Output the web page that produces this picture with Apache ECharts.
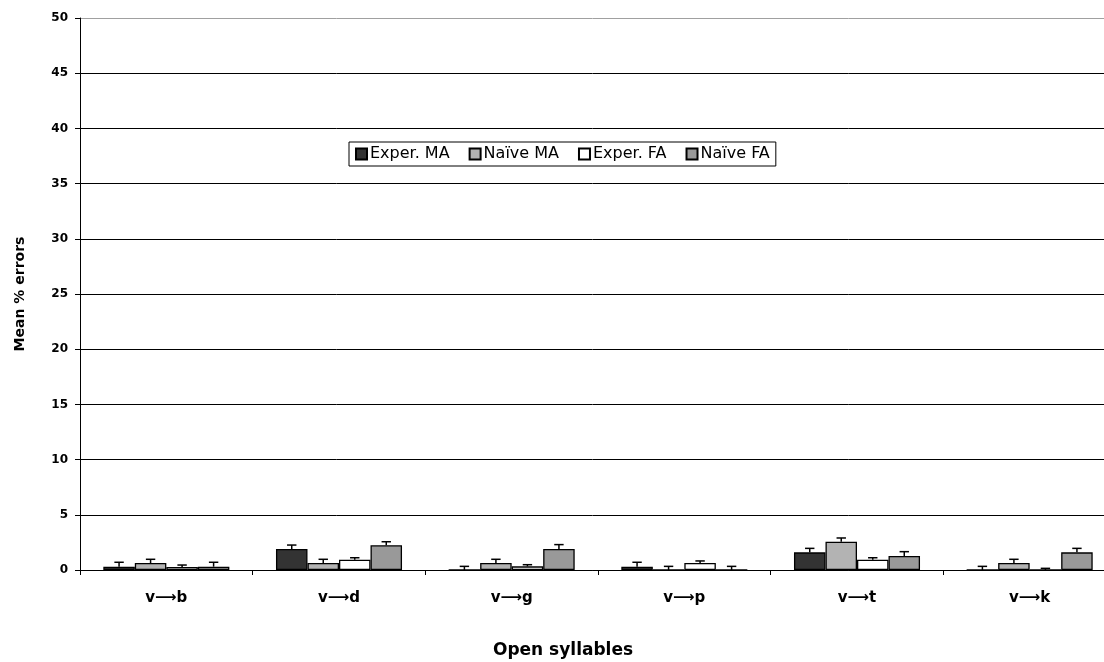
<!DOCTYPE html>
<html>
<head>
  <meta charset="utf-8">
  <script type="text/javascript" src="https://cdn.jsdelivr.net/npm/echarts@6/dist/echarts.min.js"></script>
</head>
<body style="margin: 0">
  <div id="container" style="width: 1104px; height: 662px"></div>
  <script type="text/javascript">
    var categories = ['v\u27f6b', 'v\u27f6d', 'v\u27f6g', 'v\u27f6p', 'v\u27f6t', 'v\u27f6k'];
    var seriesNames = ['Exper. MA', 'Na\u00efve MA', 'Exper. FA', 'Na\u00efve FA'];
    var experMA = [0.3, 1.9, 0, 0.3, 1.6, 0];
    var naiveMA = [0.63, 0.63, 0.63, 0, 2.56, 0.63];
    var experFA = [0.27, 0.93, 0.33, 0.63, 0.93, 0];
    var naiveFA = [0.3, 2.24, 1.9, 0, 1.27, 1.6];
    // upper error (added on top of the mean)
    var experMAErr = [0.4, 0.36, 0.33, 0.4, 0.36, 0.33];
    var naiveMAErr = [0.34, 0.34, 0.34, 0.33, 0.34, 0.34];
    var experFAErr = [0.18, 0.18, 0.15, 0.19, 0.18, 0.15];
    var naiveFAErr = [0.4, 0.32, 0.4, 0.33, 0.39, 0.36];
    var yTicks = [0, 5, 10, 15, 20, 25, 30, 35, 40, 45, 50];

    var means = [experMA, naiveMA, experFA, naiveFA];
    var errs = [experMAErr, naiveMAErr, experFAErr, naiveFAErr];
    var _colors = ['#333333', '#b3b3b3', '#ffffff', '#999999'];
    var catGap = 0.27;
    var font = 'DejaVu Sans, Liberation Sans, sans-serif';

    var myChart = echarts.init(document.getElementById('container'));
    var series = [];
    for (var i = 0; i < 4; i++) {
      series.push({
        name: seriesNames[i],
        type: 'bar',
        barGap: '0%',
        barCategoryGap: '27%',
        itemStyle: { color: _colors[i], borderColor: '#000', borderWidth: 1.3 },
        data: means[i]
      });
    }
    for (var k = 0; k < 4; k++) {
      (function (idx) {
        var d = [];
        for (var j = 0; j < categories.length; j++) {
          d.push([j, means[idx][j], means[idx][j] + errs[idx][j]]);
        }
        series.push({
          type: 'custom',
          name: 'err' + idx,
          z: 5,
          silent: true,
          data: d,
          encode: { x: 0, y: [1, 2] },
          renderItem: function (params, api) {
            var catW = api.size([1, 0])[0];
            var barW = catW * (1 - catGap) / 4;
            var p0 = api.coord([api.value(0), api.value(1)]);
            var p1 = api.coord([api.value(0), api.value(2)]);
            var x = p0[0] + (idx - 1.5) * barW;
            var cap = 4.7;
            var st = { stroke: '#000', lineWidth: 1.5 };
            return {
              type: 'group',
              children: [
                { type: 'line', shape: { x1: x, y1: p0[1], x2: x, y2: p1[1] }, style: st },
                { type: 'line', shape: { x1: x - cap, y1: p1[1], x2: x + cap, y2: p1[1] }, style: st }
              ]
            };
          }
        });
      })(k);
    }

    var lineColors = [];
    for (var m = 0; m < yTicks.length; m++) {
      lineColors.push(m == yTicks.length - 1 ? '#a0a0a0' : '#000');
    }

    var option = {
      animation: false,
      textStyle: { fontFamily: font },
      grid: { left: 80, width: 1036, top: 18, height: 552, outerBoundsMode: 'none', containLabel: false },
      legend: {
        data: seriesNames,
        left: 349,
        top: 142,
        orient: 'horizontal',
        itemWidth: 11,
        itemHeight: 11,
        itemGap: 19,
        padding: [4, 6, 4, 6],
        borderColor: '#000',
        borderWidth: 1,
        backgroundColor: '#fff',
        textStyle: { fontFamily: font, fontSize: 16, color: '#000', padding: [0, 0, 0, -2] },
        icon: 'rect'
      },
      xAxis: {
        type: 'category',
        data: categories,
        name: 'Open syllables',
        nameLocation: 'middle',
        nameGap: 72,
        nameTextStyle: { fontFamily: font, fontSize: 17, fontWeight: 'bold', color: '#000', padding: [0, 70, 0, 0] },
        axisLine: { lineStyle: { color: '#000', width: 1 } },
        axisTick: { show: true, length: 5, lineStyle: { color: '#000' } },
        axisLabel: { fontFamily: font, fontSize: 15, fontWeight: 'bold', color: '#000', margin: 21 }
      },
      yAxis: {
        type: 'value',
        min: 0,
        max: 50,
        interval: 5,
        name: 'Mean % errors',
        nameLocation: 'middle',
        nameGap: 53,
        nameTextStyle: { fontFamily: font, fontSize: 14, fontWeight: 'bold', color: '#000' },
        axisLine: { show: true, lineStyle: { color: '#000', width: 1 } },
        axisTick: { show: true, length: 5, lineStyle: { color: '#000' } },
        axisLabel: { fontFamily: font, fontSize: 12, fontWeight: 'bold', color: '#000', margin: 12 },
        splitLine: { show: true, lineStyle: { color: lineColors, width: 1 } }
      },
      series: series
    };
    myChart.setOption(option);
  </script>
</body>
</html>
